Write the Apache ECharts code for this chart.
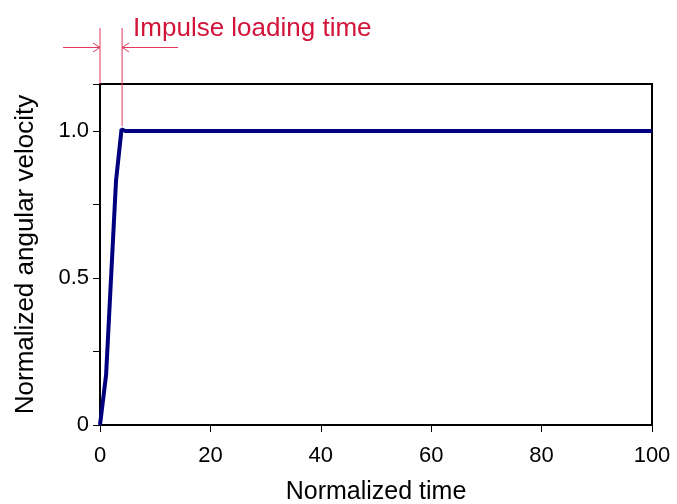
<!DOCTYPE html>
<html><head><meta charset="utf-8">
<script src="https://cdn.jsdelivr.net/npm/echarts@6/dist/echarts.min.js"></script>
<style>html,body{margin:0;padding:0;background:#fff}#c{width:677px;height:504px}</style>
</head><body><div id="c"></div>
<script>
const timeValues = [0, 1.1, 2.9, 3.9, 4.6, 100];
const velocityValues = [0, 0.17, 0.83, 1.006, 1.0, 1.0];
const xTicks = [0, 20, 40, 60, 80, 100];
const yLabels = {0: '0', 0.5: '0.5', 1: '1.0'};
const loadStart = 0, loadEnd = 4;
const annotationText = 'Impulse loading time';

const FONT = '"Liberation Sans", Arial, sans-serif';
const RED = '#d2143a';
const RED_LINE = '#e23a5c';
const chart = echarts.init(document.getElementById('c'), null, {renderer: 'canvas'});
const option = {
  animation: false,
  backgroundColor: '#fff',
  grid: {left: 100, right: 25, top: 84, bottom: 79, show: true, borderColor: '#000', borderWidth: 2,
    containLabel: false, outerBoundsMode: 'none'},
  xAxis: {
    type: 'value', min: xTicks[0], max: xTicks[xTicks.length - 1], interval: 20,
    name: 'Normalized time', nameLocation: 'middle', nameGap: 55,
    nameTextStyle: {fontFamily: FONT, fontSize: 25, color: '#000'},
    axisLine: {lineStyle: {color: '#000', width: 2}},
    axisTick: {show: true, inside: false, length: 7, lineStyle: {color: '#000', width: 1}},
    axisLabel: {fontFamily: FONT, fontSize: 22, color: '#000', margin: 20},
    splitLine: {show: false}
  },
  yAxis: {
    type: 'value', min: 0, max: 1.16, interval: 0.25,
    name: 'Normalized angular velocity', nameLocation: 'middle', nameGap: 61,
    nameTextStyle: {fontFamily: FONT, fontSize: 26, color: '#000'},
    axisLine: {lineStyle: {color: '#000', width: 2}},
    axisTick: {show: true, inside: false, length: 7, lineStyle: {color: '#000', width: 1}},
    axisLabel: {fontFamily: FONT, fontSize: 22, color: '#000', margin: 11, showMaxLabel: true,
      formatter: v => { const k = Math.round(v * 100) / 100; return yLabels[k] !== undefined ? yLabels[k] : ''; }},
    splitLine: {show: false}
  },
  series: [{
    type: 'line', data: timeValues.map((t, i) => [t, velocityValues[i]]),
    showSymbol: false, lineStyle: {color: '#00007f', width: 4}, clip: false, z: 5
  }]
};
chart.setOption(option);

const xs = chart.convertToPixel({gridIndex: 0}, [loadStart, 0])[0];
const xe = chart.convertToPixel({gridIndex: 0}, [loadEnd, 0])[0];
const yTop = chart.convertToPixel({gridIndex: 0}, [0, 1.16])[1];
const yOne = chart.convertToPixel({gridIndex: 0}, [0, 1.0])[1];
const lineStyle = {stroke: RED_LINE, lineWidth: 1};
const ay = 47.5;
const lineTop = 28;
chart.setOption({
  graphic: [
    {type: 'line', shape: {x1: xs, y1: lineTop, x2: xs, y2: yTop}, style: lineStyle, z: 10},
    {type: 'line', shape: {x1: xe, y1: lineTop, x2: xe, y2: yOne - 5}, style: lineStyle, z: 10},
    {type: 'line', shape: {x1: xs - 37, y1: ay, x2: xs, y2: ay}, style: lineStyle, z: 10},
    {type: 'polyline', shape: {points: [[xs - 7, ay - 4.5], [xs, ay], [xs - 7, ay + 4.5]]}, style: {stroke: RED_LINE, lineWidth: 1, fill: null}, z: 10},
    {type: 'line', shape: {x1: xe, y1: ay, x2: xe + 56, y2: ay}, style: lineStyle, z: 10},
    {type: 'polyline', shape: {points: [[xe + 7, ay - 4.5], [xe, ay], [xe + 7, ay + 4.5]]}, style: {stroke: RED_LINE, lineWidth: 1, fill: null}, z: 10},
    {type: 'text', x: xe + 11, y: 29, style: {text: annotationText, fill: RED, font: '26px ' + FONT, textVerticalAlign: 'middle', textAlign: 'left'}, z: 10}
  ]
});
</script></body></html>
